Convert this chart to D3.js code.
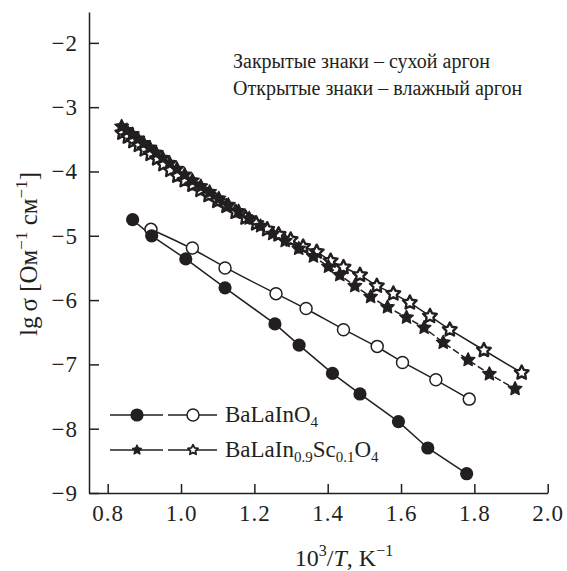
<!DOCTYPE html>
<html>
<head>
<meta charset="utf-8">
<script src="https://cdn.jsdelivr.net/npm/d3@7"></script>
<style>
  body { margin: 0; background: #fff; }
  svg { font-family: "Liberation Serif", "Times New Roman", serif; }
  .axis path, .axis line { stroke: #231f20; stroke-width: 1.5; }
  .axis text { font-size: 23px; fill: #231f20; font-family: "Liberation Serif", serif; letter-spacing: 1px; }
</style>
</head>
<body>
<script>
var width = 567,
    height = 571;

// тики осей
var xTicks = [0.8, 1.0, 1.2, 1.4, 1.6, 1.8, 2.0];
var yTicks = [-2, -3, -4, -5, -6, -7, -8, -9];

// BaLaInO4, сухой аргон (закрытые кружки)
var balaDryX = [0.868, 0.920, 1.013, 1.120, 1.256, 1.322, 1.413, 1.488, 1.593, 1.673, 1.779];
var balaDryY = [-4.75, -5.00, -5.36, -5.81, -6.37, -6.70, -7.14, -7.46, -7.89, -8.30, -8.70];

// BaLaInO4, влажный аргон (открытые кружки)
var balaWetX = [0.918, 1.031, 1.120, 1.259, 1.341, 1.443, 1.535, 1.604, 1.695, 1.786];
var balaWetY = [-4.90, -5.19, -5.50, -5.90, -6.13, -6.46, -6.72, -6.97, -7.24, -7.54];

// BaLaIn0.9Sc0.1O4, сухой аргон (закрытые звезды)
var scDryX = [0.838, 0.852, 0.867, 0.882, 0.898, 0.915, 0.932, 0.950, 0.969, 0.989,
              1.010, 1.031, 1.054, 1.078, 1.103, 1.129, 1.157, 1.186, 1.217, 1.250,
              1.284, 1.321, 1.361, 1.402, 1.433, 1.474, 1.517, 1.563, 1.615, 1.663,
              1.715, 1.783, 1.841, 1.911];
var scDryY = [-3.30, -3.36, -3.42, -3.49, -3.56, -3.63, -3.71, -3.79, -3.87, -3.96,
              -4.05, -4.14, -4.23, -4.32, -4.42, -4.52, -4.62, -4.73, -4.85, -4.97,
              -5.08, -5.20, -5.32, -5.48, -5.61, -5.78, -5.95, -6.11, -6.27, -6.43,
              -6.66, -6.93, -7.15, -7.38];

// BaLaIn0.9Sc0.1O4, влажный аргон (открытые звезды)
var scWetX = [0.840, 0.855, 0.870, 0.885, 0.901, 0.917, 0.935, 0.952, 0.971, 0.990,
              1.010, 1.031, 1.053, 1.075, 1.099, 1.124, 1.149, 1.176, 1.205, 1.235,
              1.266, 1.299, 1.333, 1.370, 1.408, 1.443, 1.488, 1.534, 1.579, 1.624,
              1.679, 1.733, 1.826, 1.929];
var scWetY = [-3.40, -3.46, -3.53, -3.59, -3.66, -3.73, -3.80, -3.89, -3.98, -4.07,
              -4.14, -4.21, -4.29, -4.37, -4.46, -4.54, -4.63, -4.72, -4.81, -4.90,
              -4.98, -5.06, -5.17, -5.25, -5.39, -5.49, -5.61, -5.78, -5.90, -6.04,
              -6.25, -6.46, -6.78, -7.13];

var ink = "#231f20";

var svg = d3.select("body").append("svg")
    .attr("width", width)
    .attr("height", height);

var x = d3.scaleLinear().domain([0.749, 2.0]).range([89, 547.7]);
var y = d3.scaleLinear().domain([-9, -1.52]).range([493, 12]);

function zip(xs, ys) {
  return xs.map(function(v, i) { return {x: v, y: ys[i]}; });
}

// звезда потолще, чем d3.symbolStar
var fatStar = {
  draw: function(ctx, size) {
    var r = Math.sqrt(size), ri = r * 0.5;
    for (var k = 0; k < 10; k++) {
      var a = -Math.PI / 2 + k * Math.PI / 5,
          rr = k % 2 ? ri : r;
      if (k === 0) ctx.moveTo(rr * Math.cos(a), rr * Math.sin(a));
      else ctx.lineTo(rr * Math.cos(a), rr * Math.sin(a));
    }
    ctx.closePath();
  }
};

// оси
svg.append("g")
    .attr("class", "axis")
    .attr("transform", "translate(0," + y(-9) + ")")
    .call(d3.axisBottom(x).tickValues(xTicks).tickSizeInner(-9).tickSizeOuter(0)
      .tickPadding(12).tickFormat(d3.format(".1f")));

svg.append("g")
    .attr("class", "axis")
    .attr("transform", "translate(" + x(0.749) + ",0)")
    .call(d3.axisLeft(y).tickValues(yTicks).tickSizeInner(-10).tickSizeOuter(0)
      .tickPadding(11).tickFormat(d3.format("d")));

// линии
var line = d3.line()
    .x(function(d) { return x(d.x); })
    .y(function(d) { return y(d.y); });

svg.append("path")
    .attr("d", line(zip(balaDryX, balaDryY)))
    .attr("fill", "none").attr("stroke", ink).attr("stroke-width", 1.5);

svg.append("path")
    .attr("d", line.curve(d3.curveBasis)(zip(balaWetX, balaWetY)))
    .attr("fill", "none").attr("stroke", ink).attr("stroke-width", 1.5);
line.curve(d3.curveLinear);

svg.append("path")
    .attr("d", line(zip(scWetX, scWetY)))
    .attr("fill", "none").attr("stroke", ink).attr("stroke-width", 1.5);

svg.append("path")
    .attr("d", line(zip(scDryX, scDryY)))
    .attr("fill", "none").attr("stroke", ink).attr("stroke-width", 1.5)
    .attr("stroke-dasharray", "7,3");

// маркеры
var star = d3.symbol().type(fatStar).size(52);
var starSmall = d3.symbol().type(fatStar).size(28);

svg.append("g").selectAll("path")
    .data(zip(scWetX, scWetY))
    .join("path")
    .attr("transform", function(d) { return "translate(" + x(d.x) + "," + y(d.y) + ")"; })
    .attr("d", star)
    .attr("fill", "#fff").attr("stroke", ink).attr("stroke-width", 2.4)
    .attr("stroke-linejoin", "round");

svg.append("g").selectAll("path")
    .data(zip(scDryX, scDryY))
    .join("path")
    .attr("transform", function(d) { return "translate(" + x(d.x) + "," + y(d.y) + ")"; })
    .attr("d", star)
    .attr("fill", ink).attr("stroke", ink).attr("stroke-width", 1.2)
    .attr("stroke-linejoin", "round");

svg.append("g").selectAll("circle")
    .data(zip(balaWetX, balaWetY))
    .join("circle")
    .attr("cx", function(d) { return x(d.x); })
    .attr("cy", function(d) { return y(d.y); })
    .attr("r", 6)
    .attr("fill", "#fff").attr("stroke", ink).attr("stroke-width", 1.5);

svg.append("g").selectAll("circle")
    .data(zip(balaDryX, balaDryY))
    .join("circle")
    .attr("cx", function(d) { return x(d.x); })
    .attr("cy", function(d) { return y(d.y); })
    .attr("r", 6.6)
    .attr("fill", ink).attr("stroke", "none");

// подписи осей
var yLab = svg.append("text")
    .attr("transform", "translate(37,254) rotate(-90)")
    .attr("text-anchor", "middle")
    .attr("font-size", 25).attr("fill", ink);
yLab.append("tspan").text("lg\u2009σ [Ом");
yLab.append("tspan").attr("dy", -10).attr("font-size", 17).text("−1");
yLab.append("tspan").attr("dy", 10).text(" см");
yLab.append("tspan").attr("dy", -10).attr("font-size", 17).text("−1");
yLab.append("tspan").attr("dy", 10).text("]");

var xLab = svg.append("text")
    .attr("x", 344).attr("y", 566)
    .attr("text-anchor", "middle")
    .attr("font-size", 24).attr("fill", ink);
xLab.append("tspan").text("10");
xLab.append("tspan").attr("dy", -10).attr("font-size", 16).text("3");
xLab.append("tspan").attr("dy", 10).text("/");
xLab.append("tspan").attr("font-style", "italic").text("T");
xLab.append("tspan").text(", K");
xLab.append("tspan").attr("dy", -10).attr("font-size", 16).text("−1");

// пояснение
svg.append("text").attr("x", 233).attr("y", 68)
    .attr("font-size", 20).attr("fill", ink)
    .text("Закрытые знаки – сухой аргон");
svg.append("text").attr("x", 233).attr("y", 95)
    .attr("font-size", 20).attr("fill", ink)
    .text("Открытые знаки – влажный аргон");

// легенда
var legY = [415, 450];
var legend = svg.append("g");
legY.forEach(function(ly, i) {
  legend.append("line").attr("x1", 110).attr("x2", 163).attr("y1", ly).attr("y2", ly)
    .attr("stroke", ink).attr("stroke-width", 1.5);
  legend.append("line").attr("x1", 168).attr("x2", 217).attr("y1", ly).attr("y2", ly)
    .attr("stroke", ink).attr("stroke-width", 1.5);
  if (i === 0) {
    legend.append("circle").attr("cx", 137).attr("cy", ly).attr("r", 6.6)
      .attr("fill", ink);
    legend.append("circle").attr("cx", 193).attr("cy", ly).attr("r", 6)
      .attr("fill", "#fff").attr("stroke", ink).attr("stroke-width", 1.5);
  } else {
    legend.append("path").attr("transform", "translate(137," + ly + ")").attr("d", starSmall)
      .attr("fill", ink).attr("stroke", ink).attr("stroke-width", 1)
      .attr("stroke-linejoin", "round");
    legend.append("path").attr("transform", "translate(193," + ly + ")").attr("d", starSmall)
      .attr("fill", "#fff").attr("stroke", ink).attr("stroke-width", 1.8)
      .attr("stroke-linejoin", "round");
  }
});

var l1 = legend.append("text").attr("x", 225).attr("y", 422)
    .attr("font-size", 23).attr("fill", ink);
l1.append("tspan").text("BaLaInO");
l1.append("tspan").attr("dy", 5).attr("font-size", 15).text("4");

var l2 = legend.append("text").attr("x", 225).attr("y", 457)
    .attr("font-size", 23).attr("fill", ink);
l2.append("tspan").text("BaLaIn");
l2.append("tspan").attr("dy", 5).attr("font-size", 15).text("0.9");
l2.append("tspan").attr("dy", -5).text("Sc");
l2.append("tspan").attr("dy", 5).attr("font-size", 15).text("0.1");
l2.append("tspan").attr("dy", -5).text("O");
l2.append("tspan").attr("dy", 5).attr("font-size", 15).text("4");
</script>
</body>
</html>
